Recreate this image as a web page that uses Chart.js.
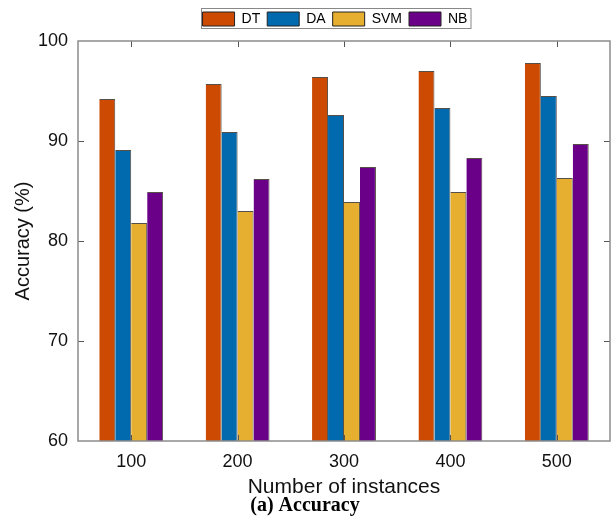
<!DOCTYPE html>
<html>
<head>
<meta charset="utf-8">
<script src="https://cdn.jsdelivr.net/npm/chart.js@4.4.1/dist/chart.umd.min.js"></script>
<style>
  html, body { margin: 0; padding: 0; background: #fff; }
  #wrap { width: 616px; height: 521px; }
</style>
</head>
<body>
<div id="wrap"><canvas id="accChart" width="616" height="521"></canvas></div>
<script>
// ── DATA ──
const categories = ['100', '200', '300', '400', '500'];
const seriesNames = ['DT', 'DA', 'SVM', 'NB'];
const dtValues = [94.2, 95.7, 96.4, 97.0, 97.8];
const daValues = [89.1, 90.9, 92.6, 93.3, 94.5];
const svmValues = [81.8, 83.0, 83.9, 84.9, 86.3];
const nbValues = [84.9, 86.2, 87.4, 88.3, 89.7];
const yTickValues = [60, 70, 80, 90, 100];

const colors = ['#CD4A02', '#0169AE', '#E6AF2F', '#6A0088'];
const axisFont = 'Liberation Sans, Arial, sans-serif';

// frame + inward tick marks (matlab style box)
const boxFrame = {
  id: 'boxFrame',
  afterDatasetsDraw(chart) {
    const { ctx, chartArea: a, scales } = chart;
    ctx.save();
    ctx.strokeStyle = '#555';
    ctx.lineWidth = 1;
    ctx.beginPath();
    yTickValues.slice(1, -1).forEach(v => {
      const y = Math.round(scales.y.getPixelForValue(v)) + 0.5;
      ctx.moveTo(a.left, y); ctx.lineTo(a.left + 6, y);
      ctx.moveTo(a.right, y); ctx.lineTo(a.right - 6, y);
    });
    categories.forEach((c, i) => {
      const x = Math.round(scales.x.getPixelForValue(i)) + 0.5;
      ctx.moveTo(x, a.top); ctx.lineTo(x, a.top + 6);
      ctx.moveTo(x, a.bottom); ctx.lineTo(x, a.bottom - 6);
    });
    ctx.stroke();
    ctx.strokeStyle = '#8c8c8c';
    ctx.lineWidth = 1.5;
    ctx.strokeRect(a.left, a.top, a.right - a.left, a.bottom - a.top);
    ctx.restore();
  }
};

// nudge legend to where the original sits, then frame it
const legendPlace = {
  id: 'legendPlace',
  afterLayout(chart) {
    const lg = chart.legend;
    lg.left += 30; lg.right += 30;
    lg.top -= 5; lg.bottom -= 5;
  },
  afterDraw(chart) {
    const hb = chart.legend.legendHitBoxes;
    if (!hb || !hb.length) return;
    const last = hb[hb.length - 1];
    const { ctx } = chart;
    ctx.save();
    ctx.strokeStyle = '#888';
    ctx.lineWidth = 1;
    const l = Math.round(hb[0].left) - 1.5, t = Math.round(hb[0].top) - 3.5;
    ctx.strokeRect(l, t, Math.round(last.left + last.width + 4) - l, hb[0].height + 6);
    ctx.restore();
  }
};

new Chart(document.getElementById('accChart'), {
  type: 'bar',
  data: {
    labels: categories,
    datasets: [dtValues, daValues, svmValues, nbValues].map((vals, i) => ({
      label: seriesNames[i],
      data: vals,
      backgroundColor: colors[i],
      borderColor: 'rgba(30,20,10,0.75)',
      borderWidth: { top: 1, right: 1, left: 0, bottom: 0 },
      borderSkipped: 'bottom',
      categoryPercentage: 0.6,
      barPercentage: 1.0
    }))
  },
  options: {
    responsive: false,
    animation: false,
    layout: { padding: { top: 10, right: 6, left: 0, bottom: 0 } },
    plugins: {
      legend: {
        position: 'top',
        labels: {
          boxWidth: 32,
          boxHeight: 14,
          padding: 7,
          color: '#000',
          font: { family: axisFont, size: 14 },
          generateLabels(chart) {
            return Chart.defaults.plugins.legend.labels.generateLabels(chart)
              .map(l => ({ ...l, strokeStyle: '#222', lineWidth: 1 }));
          }
        }
      },
      title: {
        display: true,
        position: 'bottom',
        text: '(a) Accuracy',
        color: '#000',
        font: { family: 'Liberation Serif, Times New Roman, serif', size: 20, weight: 'bold', lineHeight: 0.8 },
        padding: { top: 0, bottom: 7 }
      },
      tooltip: { enabled: false }
    },
    scales: {
      x: {
        grid: { display: false, drawTicks: false },
        border: { display: false },
        ticks: { color: '#111', padding: 10, font: { family: axisFont, size: 18 } },
        title: {
          display: true,
          text: 'Number of instances',
          color: '#111',
          font: { family: axisFont, size: 21, lineHeight: 1.0 },
          padding: { top: 0, bottom: 0 }
        },
        afterFit(scale) { scale.height = 57; }
      },
      y: {
        min: 60,
        max: 100,
        afterBuildTicks(scale) { scale.ticks = yTickValues.map(v => ({ value: v })); },
        grid: { display: false, drawTicks: false },
        border: { display: false },
        ticks: { color: '#111', padding: 10, font: { family: axisFont, size: 18 } },
        title: {
          display: true,
          text: 'Accuracy (%)',
          color: '#111',
          font: { family: axisFont, size: 20 },
          padding: { top: 11, bottom: 0 }
        },
        afterFit(scale) { scale.width = 78; }
      }
    }
  },
  plugins: [legendPlace, boxFrame]
});
</script>
</body>
</html>
